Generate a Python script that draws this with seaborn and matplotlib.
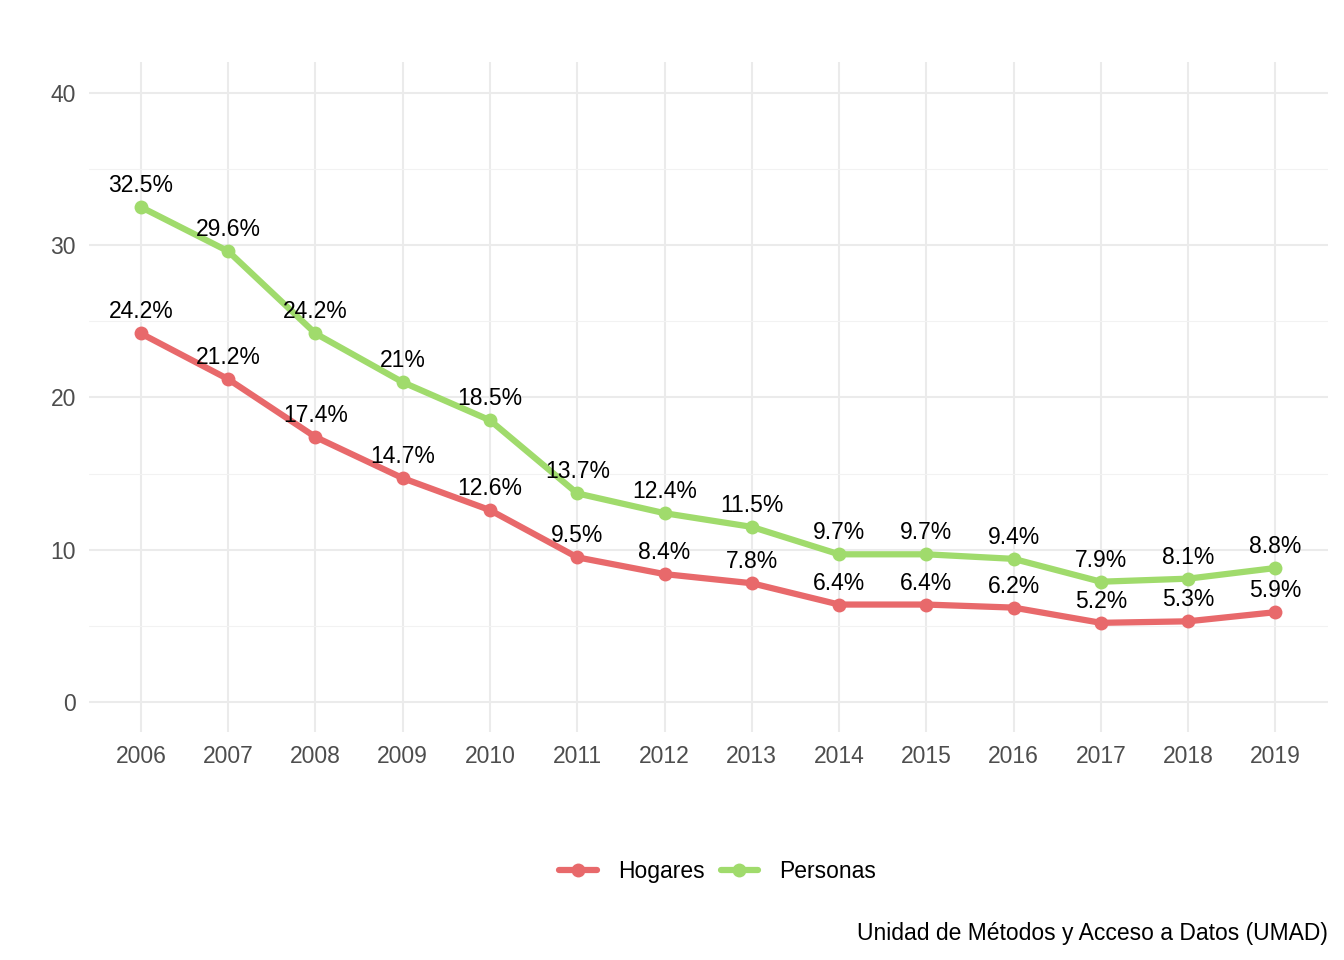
import matplotlib
matplotlib.use("Agg")
import matplotlib.pyplot as plt
import seaborn as sns
import pandas as pd
from matplotlib.lines import Line2D

years = [2006, 2007, 2008, 2009, 2010, 2011, 2012, 2013, 2014, 2015, 2016, 2017, 2018, 2019]
hogares = [24.2, 21.2, 17.4, 14.7, 12.6, 9.5, 8.4, 7.8, 6.4, 6.4, 6.2, 5.2, 5.3, 5.9]
personas = [32.5, 29.6, 24.2, 21.0, 18.5, 13.7, 12.4, 11.5, 9.7, 9.7, 9.4, 7.9, 8.1, 8.8]
series_names = ["Hogares", "Personas"]
colors = ["#E8696B", "#A0DB6C"]
caption = "Unidad de Métodos y Acceso a Datos (UMAD)"

df = pd.concat([
    pd.DataFrame({"year": [str(y) for y in years], "val": hogares, "tipo": "Hogares"}),
    pd.DataFrame({"year": [str(y) for y in years], "val": personas, "tipo": "Personas"}),
])

sns.set_theme(style="white")
plt.rcParams['font.family'] = ['Liberation Sans', 'DejaVu Sans']

fig = plt.figure(figsize=(13.44, 9.6), dpi=100)
ax = fig.add_axes([0.0659, 0.237, 0.922, 0.698])

palette = dict(zip(series_names, colors))
sns.lineplot(data=df, x="year", y="val", hue="tipo", palette=palette, ax=ax,
             linewidth=4.5, marker="o", markersize=10, markeredgewidth=0,
             legend=False, sort=False)

for name in series_names:
    sub = df[df.tipo == name]
    for x, v in zip(sub.year, sub.val):
        ax.annotate(f"{v:g}%", (x, v), xytext=(0, 15.5), textcoords="offset points",
                    ha="center", va="center", fontsize=16.5, color="black")

ax.set_xlim(-0.6, len(years) - 1 + 0.6)
ax.set_ylim(-2, 42)
ax.set_yticks([0, 10, 20, 30, 40])
ax.set_yticks([5, 15, 25, 35], minor=True)
ax.grid(True, which="major", color="#EBEBEB", linewidth=1.5)
ax.grid(True, which="minor", axis="y", color="#F2F2F2", linewidth=0.8)
ax.set_axisbelow(True)
for s in ax.spines.values():
    s.set_visible(False)
ax.tick_params(axis="both", which="both", length=0, labelsize=16.5, labelcolor="#4D4D4D", pad=9)
ax.set_xlabel("")
ax.set_ylabel("")

handles = [Line2D([0], [0], color=c, linewidth=4.5, marker="o", markersize=10, markeredgewidth=0)
           for c in colors]
leg = fig.legend(handles, series_names, loc="center", bbox_to_anchor=(0.534, 0.092),
                 ncol=2, frameon=False, fontsize=16.5, handlelength=1.65, columnspacing=0.7,
                 handletextpad=0.9)
for t in leg.get_texts():
    t.set_color("black")

fig.text(0.988, 0.028, caption, ha="right", va="center", fontsize=16.5, color="black")

fig.savefig("out.png", dpi=100, facecolor="white")
